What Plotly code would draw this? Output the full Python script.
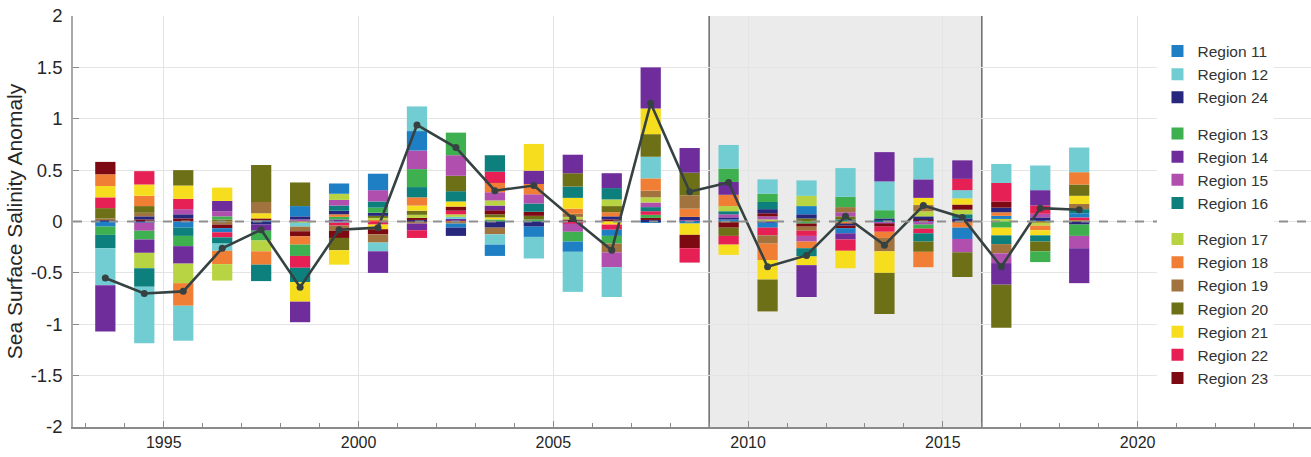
import plotly.graph_objects as go

# Annual sea surface salinity anomaly per region, 1993-2018
years = list(range(1993, 2019))

region_11 = [-0.05, -0.01, -0.06, -0.04, 0.0, 0.10, 0.10, 0.16, 0.19, -0.04, -0.11, -0.10, -0.10,
             -0.06, -0.01, -0.02, 0.02, -0.05, 0.08, -0.05, -0.01, 0.01, -0.11, 0.03, 0.01, 0.04]
region_12 = [-0.36, -0.55, -0.34, -0.07, 0.01, -0.04, -0.01, -0.085, 0.24, 0.02, -0.10, -0.21, -0.39,
             -0.29, 0.21, 0.0, 0.23, 0.14, 0.15, 0.28, 0.28, 0.21, 0.08, 0.185, 0.24, 0.24]
region_24 = [0.01, 0.03, 0.04, 0.0, -0.03, 0.03, 0.035, 0.03, 0.015, -0.08, -0.06, -0.05, -0.01,
             0.03, 0.015, 0.03, 0.02, 0.04, 0.04, -0.02, 0.02, 0.03, 0.03, 0.045, 0.03, -0.03]
region_13 = [-0.08, -0.085, -0.10, 0.03, -0.095, -0.11, 0.025, 0.05, 0.175, 0.22, 0.02, 0.02, -0.095,
             -0.075, 0.03, 0.0, 0.13, 0.08, -0.02, 0.10, 0.08, -0.04, 0.0, -0.06, -0.105, -0.11]
region_14 = [-0.45, -0.13, -0.17, 0.10, -0.06, -0.20, 0.02, -0.21, -0.065, 0.015, 0.045, 0.13, 0.18,
             0.145, 0.40, 0.24, 0.125, -0.01, -0.31, -0.06, 0.285, 0.18, 0.18, -0.21, 0.15, -0.34]
region_15 = [0.0, -0.08, 0.05, 0.05, 0.0, 0.02, 0.055, 0.11, 0.18, 0.20, 0.08, 0.09, -0.08,
             -0.145, 0.045, 0.01, 0.03, 0.03, -0.055, 0.04, -0.01, -0.03, -0.13, -0.095, 0.035, -0.12]
region_16 = [-0.13, -0.18, -0.08, -0.06, -0.16, -0.14, 0.05, 0.06, 0.10, 0.10, 0.16, 0.08, 0.11,
             0.11, 0.04, 0.005, 0.03, 0.07, -0.08, 0.02, 0.01, -0.08, 0.04, -0.085, -0.06, 0.04]
region_17 = [0.0, -0.15, -0.19, -0.16, -0.105, -0.01, 0.06, 0.02, 0.03, 0.025, 0.05, 0.0, 0.025,
             0.065, 0.05, 0.0, 0.05, 0.02, 0.10, -0.01, 0.0, 0.05, 0.045, 0.025, -0.03, 0.01]
region_18 = [0.115, 0.10, -0.22, -0.13, -0.13, -0.08, 0.025, 0.015, 0.08, 0.01, 0.09, 0.10, 0.05,
             0.04, 0.12, 0.08, 0.11, -0.16, -0.065, -0.01, -0.06, -0.15, -0.05, 0.035, -0.045, 0.12]
region_19 = [0.02, 0.035, 0.0, -0.03, 0.11, -0.045, -0.05, -0.08, -0.02, -0.02, -0.065, 0.0, 0.03,
             -0.085, 0.065, 0.13, -0.01, -0.08, -0.04, 0.05, -0.13, 0.06, -0.01, -0.09, -0.01, 0.05]
region_20 = [0.10, 0.065, 0.15, 0.02, 0.36, 0.23, -0.12, 0.02, 0.04, 0.15, 0.03, 0.035, 0.13,
             0.06, 0.22, 0.22, -0.08, -0.31, 0.03, 0.03, -0.40, -0.10, -0.24, -0.42, -0.095, 0.11]
region_21 = [0.11, 0.11, 0.13, 0.13, 0.05, -0.19, -0.14, -0.045, 0.05, 0.05, 0.02, 0.26, 0.105,
             -0.03, 0.25, -0.11, -0.10, -0.19, -0.085, -0.17, -0.21, 0.07, 0.06, -0.075, -0.05, 0.08]
region_22 = [0.105, 0.13, 0.10, -0.05, 0.0, -0.115, -0.03, -0.03, -0.075, 0.035, 0.11, 0.0, -0.01,
             -0.05, 0.035, -0.14, -0.085, -0.075, -0.05, -0.11, -0.05, -0.045, 0.11, 0.18, 0.08, 0.03]
region_23 = [0.12, 0.02, 0.03, -0.035, 0.02, -0.05, -0.07, -0.05, 0.02, 0.04, 0.04, 0.04, 0.02,
             0.02, 0.02, -0.13, -0.05, 0.03, -0.03, -0.025, -0.03, 0.01, 0.05, 0.06, 0.0, 0.0]

# Basin-wide mean anomaly drawn as the line
mean_anomaly = [-0.55, -0.70, -0.68, -0.26, -0.08, -0.64, -0.08, -0.06, 0.94, 0.72, 0.30, 0.35, 0.03,
                -0.28, 1.15, 0.29, 0.38, -0.44, -0.33, 0.05, -0.23, 0.155, 0.04, -0.44, 0.13, 0.115]

# Legend order and grouping
region_labels = ["Region 11", "Region 12", "Region 24",
                 "Region 13", "Region 14", "Region 15", "Region 16",
                 "Region 17", "Region 18", "Region 19", "Region 20", "Region 21", "Region 22", "Region 23"]
region_groups = ["a", "a", "a", "b", "b", "b", "b", "c", "c", "c", "c", "c", "c", "c"]
region_colors = ["#1f7fc4", "#72cdd2", "#27277e",
                 "#3fb04f", "#6f2d9c", "#b04fae", "#0d7f7d",
                 "#b9d443", "#f07f35", "#a1733f", "#6e7017", "#f6de1f", "#e61f54", "#7d0a13"]
region_values = [region_11, region_12, region_24, region_13, region_14, region_15, region_16,
                 region_17, region_18, region_19, region_20, region_21, region_22, region_23]

y_tick_vals = [-2, -1.5, -1, -0.5, 0, 0.5, 1, 1.5, 2]
y_tick_text = ["-2", "-1.5", "-1", "-0.5", "0", "0.5", "1", "1.5", "2"]

shade_start, shade_end = 2009, 2016
x_range = [1992.67, 2024.45]
y_range = [-2, 2]

FONT = "Liberation Sans, Arial, sans-serif"
bar_x = [y + 0.5 for y in years]  # annual values centred in their year

fig = go.Figure()

# Each year's segments are stacked from smallest magnitude (nearest zero) outward,
# so traces are built per rank with per-bar colours.
n_regions = len(region_values)
order_per_year = []
for j in range(len(years)):
    order = sorted(range(n_regions), key=lambda r: abs(region_values[r][j]))
    order_per_year.append(order)

for k in range(n_regions):
    ys = [region_values[order_per_year[j][k]][j] for j in range(len(years))]
    cs = [region_colors[order_per_year[j][k]] for j in range(len(years))]
    fig.add_trace(go.Bar(
        x=bar_x, y=ys, width=0.52,
        marker=dict(color=cs, line=dict(width=0)),
        showlegend=False, hoverinfo="skip",
    ))

# Legend entries
for name, col, grp in zip(region_labels, region_colors, region_groups):
    fig.add_trace(go.Bar(
        x=[None], y=[None], name=name, legendgroup=grp,
        marker=dict(color=col, line=dict(width=0)),
    ))

fig.add_trace(go.Scatter(
    x=bar_x, y=mean_anomaly, mode="lines+markers",
    line=dict(color="#364242", width=2.6),
    marker=dict(color="#364242", size=7),
    showlegend=False, hoverinfo="skip",
))

# Shaded period and its boundaries
fig.add_shape(type="rect", xref="x", yref="paper", x0=shade_start, x1=shade_end, y0=0, y1=1,
              fillcolor="#ebebeb", line=dict(width=0), layer="below")
for xv in (shade_start, shade_end):
    fig.add_shape(type="line", xref="x", yref="paper", x0=xv, x1=xv, y0=0, y1=1,
                  line=dict(color="#6a6a6a", width=1.5), layer="below")

# Dashed zero reference
fig.add_shape(type="line", xref="paper", yref="y", x0=0, x1=1, y0=0, y1=0,
              line=dict(color="#8f8f8f", width=2, dash="dash"), layer="above")

fig.update_layout(
    width=1311, height=457,
    margin=dict(l=73, r=0, t=16, b=30),
    barmode="relative",
    plot_bgcolor="white", paper_bgcolor="white",
    font=dict(family=FONT, size=16, color="#262626"),
    legend=dict(
        x=0.876, y=0.955, xanchor="left", yanchor="top",
        bgcolor="white", borderwidth=0, itemwidth=30,
        font=dict(family=FONT, size=15.5, color="#333333"),
        traceorder="grouped", tracegroupgap=13,
    ),
    xaxis=dict(
        range=x_range, tick0=1995, dtick=5,
        showgrid=True, gridcolor="#e4e4e4", gridwidth=1,
        ticks="inside", ticklen=6, tickcolor="#8a8a8a",
        minor=dict(ticks="inside", dtick=1, tick0=1995, ticklen=4, tickcolor="#8a8a8a", showgrid=False),
        showline=True, linecolor="#8a8a8a", linewidth=1.5,
        tickfont=dict(size=16, color="#262626"),
        zeroline=False,
    ),
    yaxis=dict(
        range=y_range, tickvals=y_tick_vals, ticktext=y_tick_text,
        showgrid=True, gridcolor="#e4e4e4", gridwidth=1,
        ticks="inside", ticklen=6, tickcolor="#8a8a8a",
        showline=True, linecolor="#a8a8a8", linewidth=1.5,
        tickfont=dict(size=18.5, color="#262626"),
        ticklabelstandoff=5,
        zeroline=False,
        title=dict(text="Sea Surface Salinity Anomaly", font=dict(size=21, color="#262626"), standoff=2),
    ),
)

fig.write_html("out.html")
